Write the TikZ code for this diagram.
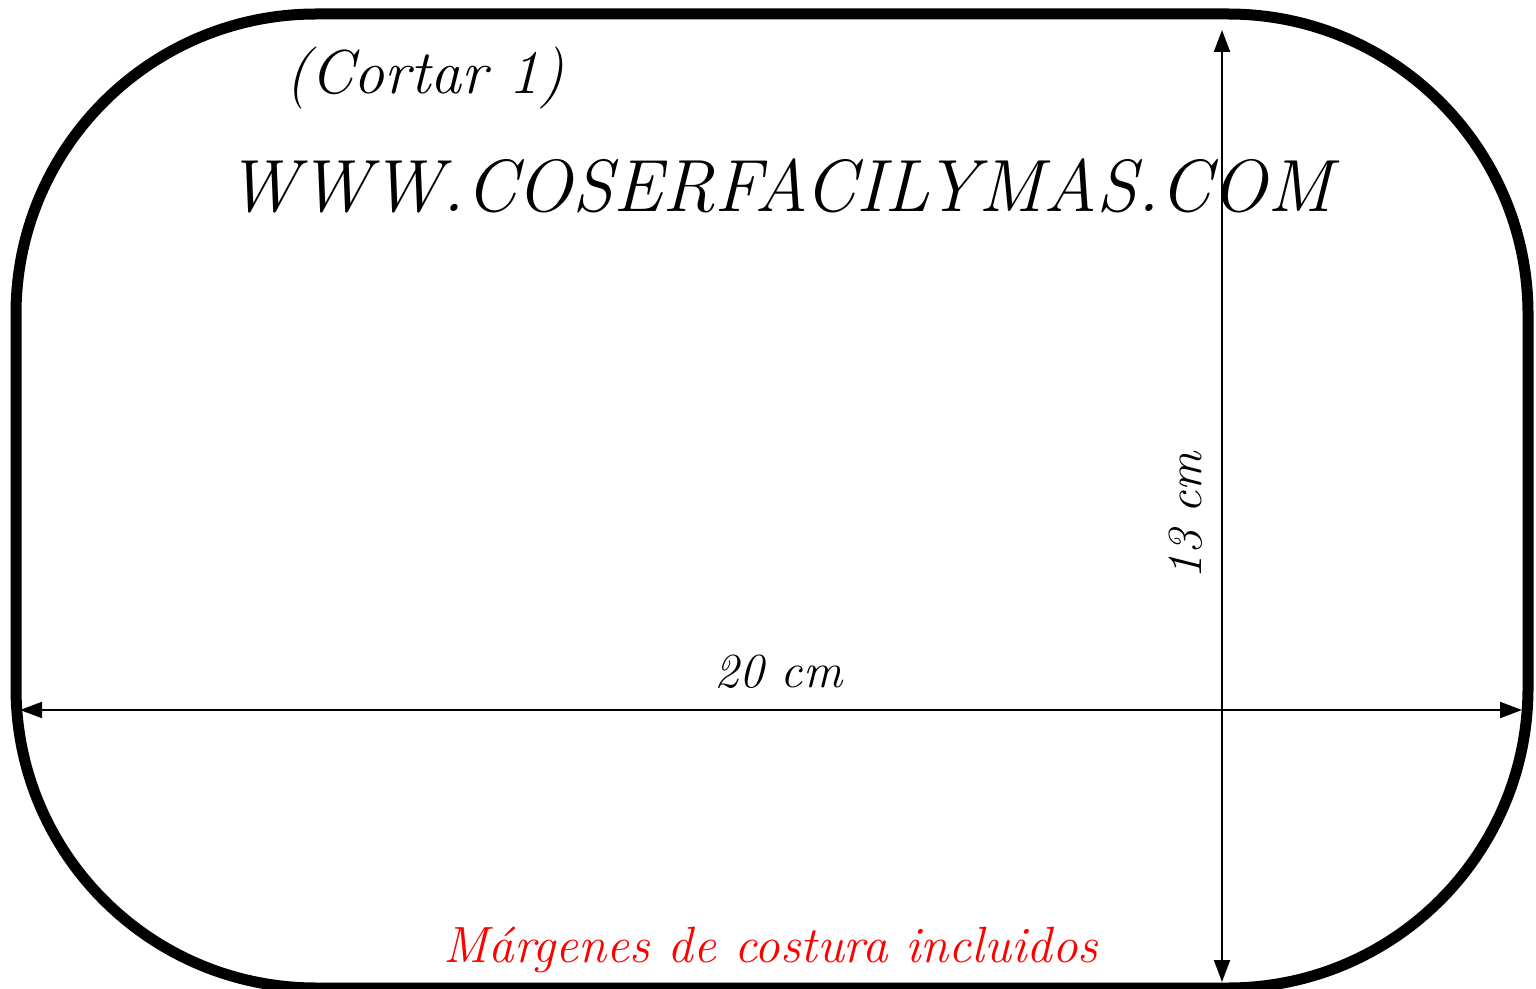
\documentclass[tikz,border=0pt]{standalone}
\usetikzlibrary{arrows.meta}

\begin{document}
\begin{tikzpicture}[x=0.5pt,y=-0.5pt,
        outline/.style={line width=5.5pt,rounded corners=150pt},
        measure/.style={{Triangle[length=11pt,width=8pt]}-{Triangle[length=11pt,width=8pt]},line width=1pt},
        hand/.style={font=\itshape\fontsize{#1}{#1}\selectfont,inner sep=0pt}]

  \useasboundingbox (0,0) rectangle (1536,989);
  \draw[outline] (16,14) rectangle (1528,988);

  \node[hand=31] (Cortar) at (425,78) {(Cortar 1)};
  \node[hand=37] (Web) at (779,186) {WWW.COSERFACILYMAS.COM};
  \node[hand=25.5,text=red] (Margenes) at (771,950) {Márgenes de costura incluidos};

  \coordinate (Left End) at (20,710);
  \coordinate (Right End) at (1522,710);
  \coordinate (Top End) at (1222,30);
  \coordinate (Bottom End) at (1222,982);

  \path (Left End) edge[measure] node[hand=24.5,above=10pt,pos=0.505] {20 cm} (Right End)
        (Bottom End) edge[measure] node[hand=24.5,rotate=90,anchor=south,pos=0.49,yshift=9pt] {13 cm} (Top End);
\end{tikzpicture}
\end{document}
